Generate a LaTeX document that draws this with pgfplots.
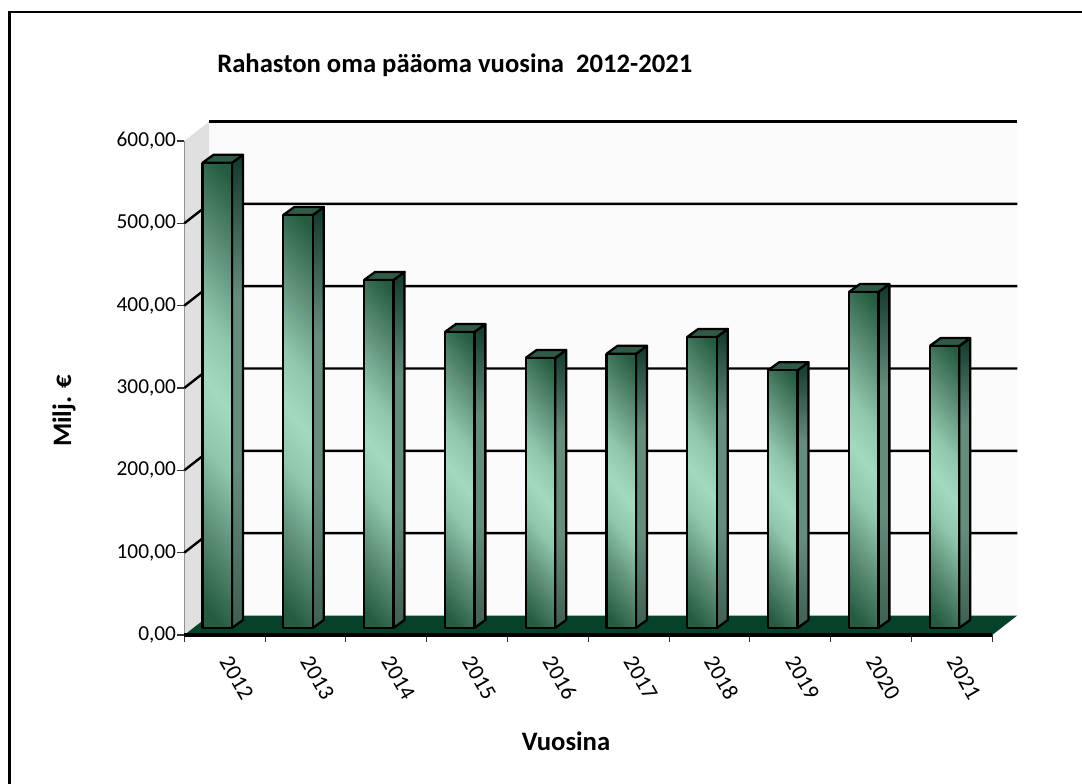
\documentclass[border=0pt]{standalone}
\usepackage{pgfplots}
\pgfplotsset{compat=1.18}
\usepackage{fontspec}
\setmainfont{Carlito}
\newlength{\px}\setlength{\px}{0.75pt}
\definecolor{wallside}{HTML}{E0E0E0}
\definecolor{wallback}{HTML}{FBFBFB}
\definecolor{floorc}{HTML}{06412A}
\definecolor{gd}{HTML}{255C40}
\definecolor{gm}{HTML}{5E8F78}
\definecolor{gh}{HTML}{8FC6AC}
\definecolor{gl}{HTML}{A3D9BF}
\definecolor{topc}{HTML}{2F5A46}
\definecolor{sd}{HTML}{11382A}
\definecolor{sm}{HTML}{668C7C}
\definecolor{sb}{HTML}{3F5F50}
\pgfdeclareverticalshading{barfront}{100bp}{%
  color(0bp)=(gd);color(18bp)=(gd);color(30bp)=(gm);color(41bp)=(gh);color(50bp)=(gl);color(59bp)=(gh);color(71bp)=(gm);color(83bp)=(gd);color(100bp)=(gd)}
\pgfdeclareverticalshading{barside}{100bp}{%
  color(0bp)=(sb);color(25bp)=(sb);color(42bp)=(sm);color(60bp)=(sm);color(75bp)=(sd);color(100bp)=(sd)}
% one bar: #1 left edge of the front face (category units), #2 value
\newcommand{\bardd}[2]{%
  \pgfmathsetmacro{\xa}{#1}%
  \pgfmathsetmacro{\xb}{#1+0.365}%
  \pgfmathsetmacro{\xc}{#1+0.365+0.136}%
  \pgfmathsetmacro{\xd}{#1+0.136}%
  \pgfmathsetmacro{\ya}{8.5}%
  \pgfmathsetmacro{\yb}{8.5+#2}%
  \pgfmathsetmacro{\yc}{8.5+#2+9.7}%
  \pgfmathsetmacro{\yd}{8.5+9.7}%
  \addplot[draw=black,line width=2.3*\px,line join=round,shade,shading=barside,shading angle=0]
    coordinates {(\xb,\ya) (\xc,\yd) (\xc,\yc) (\xb,\yb) (\xb,\ya)};
  \addplot[draw=black,line width=2.3*\px,line join=round,fill=topc]
    coordinates {(\xa,\yb) (\xb,\yb) (\xc,\yc) (\xd,\yc) (\xa,\yb)};
  \addplot[draw=black,line width=2.3*\px,line join=round,shade,shading=barfront,shading angle=-50]
    coordinates {(\xa,\ya) (\xb,\ya) (\xb,\yb) (\xa,\yb) (\xa,\ya)};
}
\begin{document}
\begin{tikzpicture}
\useasboundingbox (0,0) rectangle (1082*\px,784*\px);
\fill[white] (0,0) rectangle (1082*\px,784*\px);
\draw[black,line width=2.2*\px] (9.5*\px,0) -- (9.5*\px,772*\px) -- (1082*\px,772*\px);
\begin{axis}[
  at={(184.3*\px,149*\px)},anchor=south west,
  scale only axis,width=808*\px,height=494*\px,
  xmin=0,xmax=10,ymin=0,ymax=600,
  clip=false,
  axis x line*=bottom,axis y line*=left,
  axis line style={black,line width=1.4*\px,-},
  tick style={black!80,line width=1.1*\px},
  tick align=outside,
  major tick length=7*\px,
  xtick={0,1,2,3,4,5,6,7,8,9,10},
  x tick label as interval,
  xticklabels={2012,2013,2014,2015,2016,2017,2018,2019,2020,2021},
  xticklabel style={font=\fontsize{17}{19}\selectfont,anchor=center,xshift=12*\px,yshift=-35.5*\px,rotate=-60},
  ytick={0,100,200,300,400,500,600},
  yticklabels={{0,00},{100,00},{200,00},{300,00},{400,00},{500,00},{600,00}},
  yticklabel style={font=\fontsize{16}{18}\selectfont,inner sep=0pt,xshift=-1*\px},
  /pgf/number format/assume math mode=true,
]
% side wall, back wall, floor
\addplot[draw=none,fill=wallside,forget plot] coordinates {(0,0) (0.309,23.7) (0.309,623.7) (0,600) (0,0)};
\addplot[draw=none,fill=wallback,forget plot] coordinates {(0.309,23.7) (10.309,23.7) (10.309,623.7) (0.309,623.7) (0.309,23.7)};
\addplot[draw=none,fill=floorc,forget plot] coordinates {(0,0) (10,0) (10.309,23.7) (0.309,23.7) (0,0)};
\addplot[color=gm!60!white,line width=1*\px] coordinates {(0.309,24.2) (10.309,24.2)};
\addplot[black,line width=3.2*\px] coordinates {(0,0) (10,0)};
% gridlines
\addplot[black,line width=2.4*\px] coordinates {(0,100) (0.309,123.7) (10.309,123.7)};
\addplot[black,line width=2.4*\px] coordinates {(0,200) (0.309,223.7) (10.309,223.7)};
\addplot[black,line width=2.4*\px] coordinates {(0,300) (0.309,323.7) (10.309,323.7)};
\addplot[black,line width=2.4*\px] coordinates {(0,400) (0.309,423.7) (10.309,423.7)};
\addplot[black,line width=2.4*\px] coordinates {(0,500) (0.309,523.7) (10.309,523.7)};
\addplot[black,line width=2.4*\px] coordinates {(0.309,623.7) (10.309,623.7)};
% bars
\bardd{0.225}{565}
\bardd{1.225}{501.6}
\bardd{2.225}{422.7}
\bardd{3.225}{359.5}
\bardd{4.225}{328}
\bardd{5.225}{333}
\bardd{6.225}{353.5}
\bardd{7.225}{313}
\bardd{8.225}{408}
\bardd{9.225}{342.5}
\end{axis}
\node[anchor=west,font=\fontsize{20}{22}\selectfont\bfseries,inner sep=0pt] at (217*\px,719*\px) {Rahaston oma pääoma vuosina\ \ 2012-2021};
\node[font=\fontsize{20}{22}\selectfont\bfseries,inner sep=0pt] at (566*\px,43*\px) {Vuosina};
\node[font=\fontsize{20}{22}\selectfont\bfseries,inner sep=0pt,rotate=90] at (64*\px,373*\px) {Milj. €};
\end{tikzpicture}
\end{document}
